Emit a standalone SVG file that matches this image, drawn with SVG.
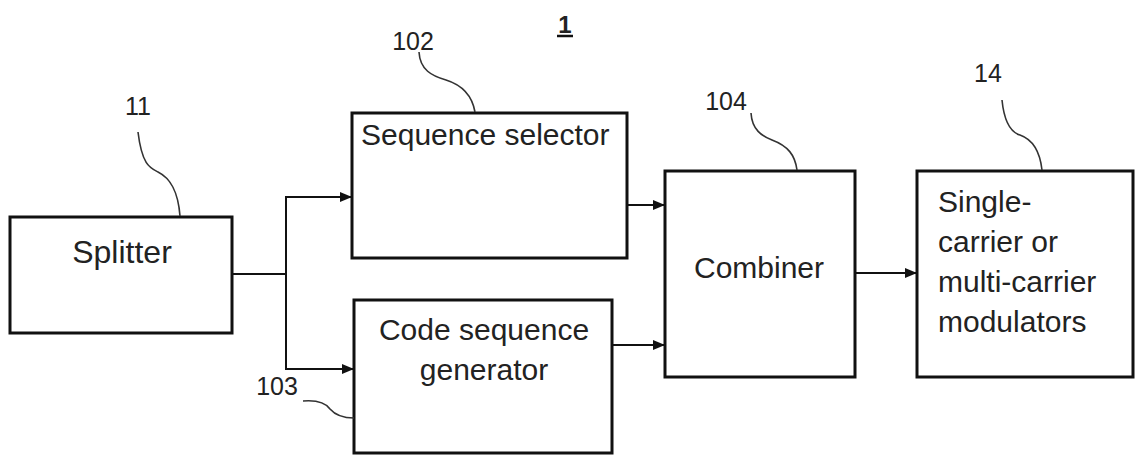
<svg xmlns="http://www.w3.org/2000/svg" width="1136" height="456" viewBox="0 0 1136 456">
<style>
.box{fill:#fff;stroke:#111;stroke-width:3}
.t{font-family:"Liberation Sans",Arial,sans-serif;font-size:30px;fill:#222}
.lbl{font-family:"Liberation Sans",Arial,sans-serif;font-size:25px;fill:#222;text-anchor:middle}
.wire{fill:none;stroke:#111;stroke-width:2}
.lead{fill:none;stroke:#333;stroke-width:1.6}
</style>
<defs>
<marker id="ah" markerWidth="12" markerHeight="10" refX="12" refY="5" orient="auto" markerUnits="userSpaceOnUse">
<path d="M0,0 L12,5 L0,10 Z" fill="#111"/>
</marker>
</defs>
<rect width="1136" height="456" fill="#fff"/>
<g id="title">
<text x="565" y="33" class="lbl" style="font-weight:bold;font-size:24px">1</text>
<line x1="557" y1="36" x2="573" y2="36" stroke="#111" stroke-width="2.5"/>
</g>
<g id="splitter">
<rect class="box" x="10" y="217" width="222" height="116"/>
<text x="122" y="263" class="t" text-anchor="middle" style="font-size:32px">Splitter</text>
</g>
<g id="selector">
<rect class="box" x="352" y="113" width="275" height="145"/>
<text x="361" y="145" class="t">Sequence selector</text>
</g>
<g id="generator">
<rect class="box" x="354" y="300" width="258" height="153"/>
<text x="484" y="340" class="t" text-anchor="middle">Code sequence</text>
<text x="484" y="380" class="t" text-anchor="middle">generator</text>
</g>
<g id="combiner">
<rect class="box" x="665" y="171" width="190" height="206"/>
<text x="759" y="278" class="t" text-anchor="middle">Combiner</text>
</g>
<g id="modulators">
<rect class="box" x="917" y="171" width="216" height="206"/>
<text x="938" y="212" class="t">Single-</text>
<text x="938" y="252" class="t">carrier or</text>
<text x="938" y="292" class="t">multi-carrier</text>
<text x="938" y="332" class="t">modulators</text>
</g>
<g id="connectors">
<path class="wire" d="M232,274 H286"/>
<path class="wire" d="M286,274 V197 H352" marker-end="url(#ah)"/>
<path class="wire" d="M286,274 V369 H354" marker-end="url(#ah)"/>
<path class="wire" d="M627,205 H665" marker-end="url(#ah)"/>
<path class="wire" d="M612,345 H665" marker-end="url(#ah)"/>
<path class="wire" d="M855,273 H917" marker-end="url(#ah)"/>
</g>
<g id="labels">
<text x="138" y="115" class="lbl">11</text>
<path class="lead" d="M138,132 C142,165 150,168 158,172 C170,178 178,190 180,216"/>
<text x="413" y="50" class="lbl">102</text>
<path class="lead" d="M419,52 C420,70 432,76 446,80 C462,85 472,95 475,112"/>
<text x="726" y="110" class="lbl">104</text>
<path class="lead" d="M751,113 C752,130 762,136 772,140 C788,146 795,155 797,170"/>
<text x="988" y="82" class="lbl">14</text>
<path class="lead" d="M1002,100 C1004,120 1010,132 1020,135 C1034,140 1040,152 1042,170"/>
<text x="277" y="395" class="lbl">103</text>
<path class="lead" d="M303,401 C315,400 325,402 330,409 C336,416 344,418 354,418"/>
</g>
</svg>
